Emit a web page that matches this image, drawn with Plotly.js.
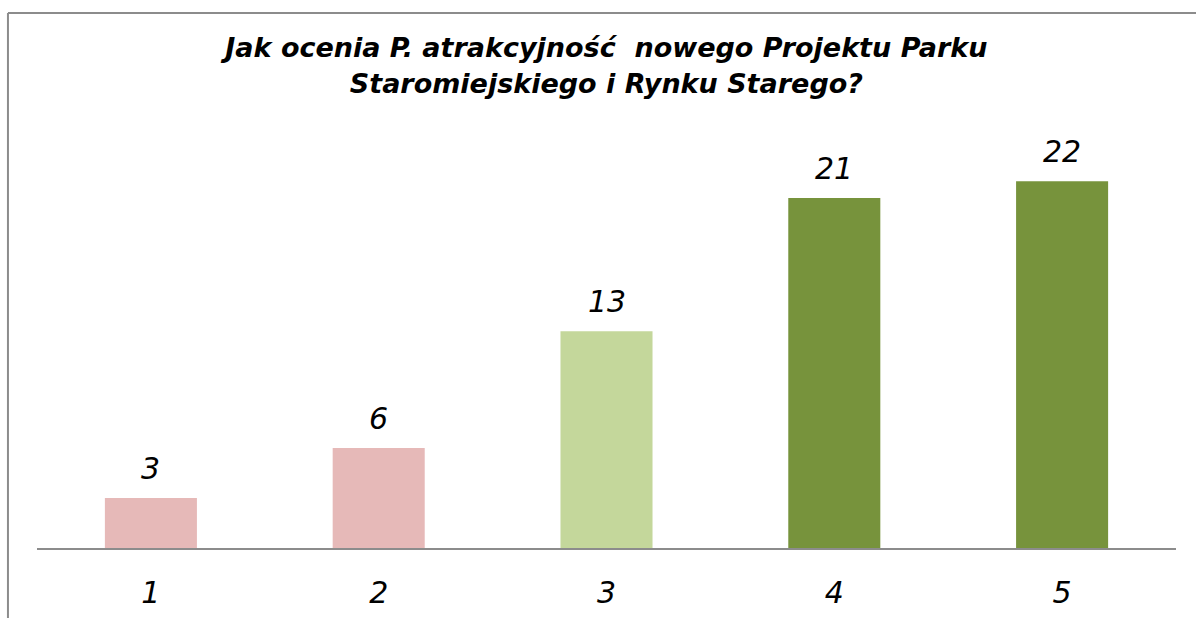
<!DOCTYPE html>
<html>
<head>
<meta charset="utf-8">
<script src="https://cdn.plot.ly/plotly-3.0.1.min.js"></script>
<style>html,body{margin:0;padding:0;background:#fff;}#chart{width:1196px;height:618px;}</style>
</head>
<body>
<div id="chart"></div>
<script>
const categories = ['1', '2', '3', '4', '5'];
const values = [3, 6, 13, 21, 22];
const barColors = ['#E6B9B8', '#E6B9B8', '#C4D79B', '#77933C', '#77933C'];
const titleText = 'Jak ocenia P. atrakcyjność  nowego Projektu Parku<br>Staromiejskiego i Rynku Starego?';

const trace = {
  type: 'bar',
  x: categories,
  y: values,
  marker: {color: barColors},
  hoverinfo: 'none'
};

const annotations = categories.map((c, i) => ({
  x: c, y: values[i], xref: 'x', yref: 'y',
  text: String(values[i]), showarrow: false,
  yanchor: 'bottom', yshift: 10,
  font: {family: 'DejaVu Sans', size: 30, color: '#000', style: 'italic'}
}));

const layout = {
  width: 1196, height: 618,
  margin: {l: 37, r: 20, t: 148, b: 70},
  paper_bgcolor: '#fff', plot_bgcolor: '#fff',
  bargap: 0.596,
  showlegend: false,
  title: {
    text: titleText,
    x: 0.507, xanchor: 'center', y: 0.907, yanchor: 'top',
    font: {family: 'DejaVu Sans', size: 27, color: '#000', weight: 'bold', style: 'italic'}
  },
  xaxis: {
    showline: true, linecolor: '#8c8c8c', linewidth: 2,
    ticks: '', showgrid: false, zeroline: false,
    tickfont: {family: 'DejaVu Sans', size: 30, color: '#000', style: 'italic'},
    ticklabelstandoff: 17
  },
  yaxis: {
    range: [0, 24], visible: false, showgrid: false, zeroline: false
  },
  annotations: annotations,
  shapes: [
    {type: 'line', xref: 'paper', yref: 'paper', x0: -0.0255, x1: -0.0255, y0: 1.3375, y1: -0.25, line: {color: '#8c8c8c', width: 2}},
    {type: 'line', xref: 'paper', yref: 'paper', x0: -0.0255, x1: 1.05, y0: 1.3375, y1: 1.3375, line: {color: '#8c8c8c', width: 2}}
  ]
};

Plotly.newPlot('chart', [trace], layout, {displayModeBar: false, staticPlot: true});
</script>
</body>
</html>
